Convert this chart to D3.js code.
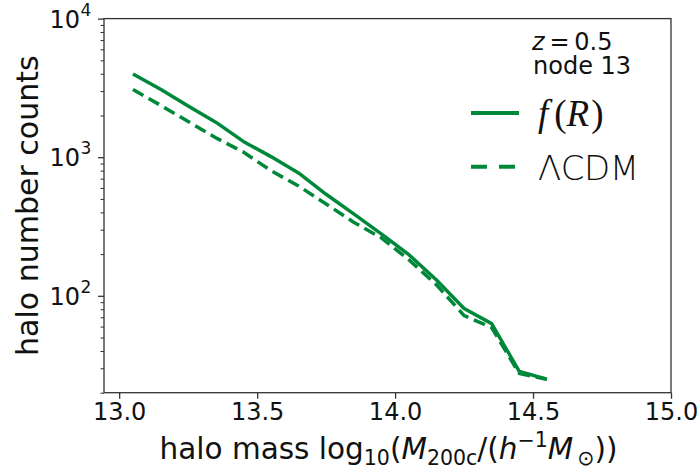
<!DOCTYPE html>
<html>
<head>
<meta charset="utf-8">
<script src="https://cdn.jsdelivr.net/npm/d3@7"></script>
<style>
  html, body { margin: 0; padding: 0; background: #ffffff; }
  svg { display: block; }
  text { font-family: "DejaVu Sans", sans-serif; fill: #111; }
</style>
</head>
<body>
<svg id="chart" width="699" height="469"></svg>
<script>
// Halo mass bin centres, log10(M200c / (h^-1 Msun))
const massBins = [13.05, 13.15, 13.25, 13.35, 13.45, 13.55, 13.65, 13.75,
                  13.85, 13.95, 14.05, 14.15, 14.25, 14.35, 14.45, 14.55];
// Halo number counts per bin
const countsFR   = [3980, 3090, 2340, 1790, 1300, 1010, 770, 540,
                    390, 280, 198, 130, 81, 63, 28.5, 25];
const countsLCDM = [3080, 2370, 1810, 1380, 1090, 800, 620, 460,
                    340, 262, 182, 120, 72, 59, 27.5, 25];
const xTicks = [13.0, 13.5, 14.0, 14.5, 15.0];
const yDecades = [2, 3, 4];
const seriesNames = ["f(R)", "ΛCDM"];

const svg = d3.select("#chart");
const green = "#00883a";
const axisColor = "#333";

const plotLeft = 104, plotRight = 671, plotTop = 18.6, plotBottom = 392.7;

const x = d3.scaleLinear().domain([12.945, 15.0]).range([plotLeft, plotRight]);
const y = d3.scaleLog().domain([20, 1e4]).range([plotBottom, plotTop]);

// Minor ticks for the log axis
const minorY = [];
[1, 2, 3].forEach(e => {
  for (let m = 2; m <= 9; m++) {
    const v = m * Math.pow(10, e);
    if (v >= 20 && v <= 1e4) minorY.push(v);
  }
});

// X axis
const xAxis = svg.append("g").attr("transform", `translate(0,${plotBottom})`)
  .call(d3.axisBottom(x).tickValues(xTicks).tickFormat(d3.format(".1f"))
        .tickSize(6).tickPadding(4));
xAxis.select(".domain").remove();
xAxis.selectAll(".tick line").attr("stroke", axisColor).attr("stroke-width", 1.3);
xAxis.selectAll(".tick text").attr("font-size", 24)
  .attr("font-family", "DejaVu Sans").attr("fill", "#111");

// Y axis minor ticks
const yMinor = svg.append("g").attr("transform", `translate(${plotLeft},0)`)
  .call(d3.axisLeft(y).tickValues(minorY).tickFormat("").tickSize(3.5));
yMinor.select(".domain").remove();
yMinor.selectAll(".tick line").attr("stroke", axisColor).attr("stroke-width", 1);

// Y axis major ticks with 10^n labels
const yMajor = svg.append("g").attr("transform", `translate(${plotLeft},0)`)
  .call(d3.axisLeft(y).tickValues(yDecades.map(e => Math.pow(10, e)))
        .tickFormat("").tickSize(6));
yMajor.select(".domain").remove();
yMajor.selectAll(".tick line").attr("stroke", axisColor).attr("stroke-width", 1.3);

yDecades.forEach(e => {
  svg.append("text")
    .attr("x", 80).attr("y", y(Math.pow(10, e)) + 9)
    .attr("text-anchor", "end").attr("font-size", 24).text("10");
  svg.append("text")
    .attr("x", 80.5).attr("y", y(Math.pow(10, e)) - 3)
    .attr("font-size", 17).text(String(e));
});

// Frame
svg.append("rect")
  .attr("x", plotLeft).attr("y", plotTop)
  .attr("width", plotRight - plotLeft).attr("height", plotBottom - plotTop)
  .attr("fill", "none").attr("stroke", axisColor).attr("stroke-width", 1.3);

// Lines
const line = d3.line().x((d, i) => x(massBins[i])).y(d => y(d));
svg.append("path").datum(countsLCDM)
  .attr("d", line).attr("fill", "none")
  .attr("stroke", green).attr("stroke-width", 3.5)
  .attr("stroke-dasharray", "12,6");
svg.append("path").datum(countsFR)
  .attr("d", line).attr("fill", "none")
  .attr("stroke", green).attr("stroke-width", 3.5)
  .attr("stroke-linejoin", "round");

// Annotation: redshift and node
const ann = svg.append("text").attr("x", 532).attr("y", 50).attr("font-size", 24);
ann.append("tspan").attr("font-style", "italic").text("z");
ann.append("tspan").text("\u2009=\u20090.5");
svg.append("text").attr("x", 533).attr("y", 74).attr("font-size", 24).text("node 13");

// Legend
svg.append("line").attr("x1", 471).attr("x2", 519).attr("y1", 113).attr("y2", 113)
  .attr("stroke", green).attr("stroke-width", 4);
svg.append("line").attr("x1", 471).attr("x2", 519).attr("y1", 166.7).attr("y2", 166.7)
  .attr("stroke", green).attr("stroke-width", 4).attr("stroke-dasharray", "16,12");

const fr = svg.append("text").attr("x", 538).attr("y", 126).attr("font-size", 37)
  .style("font-family", "'Liberation Serif', serif");
fr.append("tspan").attr("font-style", "italic").text("f");
fr.append("tspan").attr("dx", 6).text("(");
fr.append("tspan").attr("font-style", "italic").text("R");
fr.append("tspan").attr("dx", 2).text(")");

svg.append("text").attr("x", 538).attr("y", 180).attr("font-size", 34)
  .attr("font-weight", 200).attr("letter-spacing", -0.5).text(seriesNames[1]);

// Axis labels
const xl = svg.append("text").attr("x", (plotLeft + plotRight) / 2 + 1).attr("y", 459)
  .attr("text-anchor", "middle").attr("font-size", 29.5);
xl.append("tspan").text("halo mass log");
xl.append("tspan").attr("font-size", 20.5).attr("dy", 6).text("10");
xl.append("tspan").attr("dy", -6).text("(");
xl.append("tspan").attr("font-style", "italic").text("M");
xl.append("tspan").attr("font-size", 20.5).attr("dy", 6).text("200c");
xl.append("tspan").attr("dy", -6).text("/(");
xl.append("tspan").attr("font-style", "italic").text("h");
xl.append("tspan").attr("font-size", 20.5).attr("dy", -12).text("\u22121");
xl.append("tspan").attr("font-style", "italic").attr("dy", 12).text("M");
xl.append("tspan").attr("font-size", 20.5).attr("dy", 6).text("\u2009\u2299");
xl.append("tspan").attr("dy", -6).text("))");

svg.append("text")
  .attr("transform", `translate(38,${(plotTop + plotBottom) / 2}) rotate(-90)`)
  .attr("text-anchor", "middle").attr("font-size", 30)
  .text("halo number counts");
</script>
</body>
</html>
